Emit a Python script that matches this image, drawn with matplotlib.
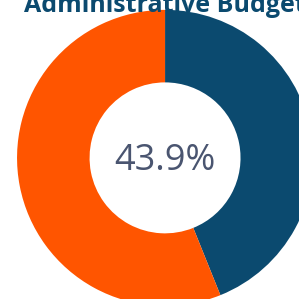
import matplotlib.pyplot as plt

# Data
labels = ['Administrative', 'Other']
values = [43.9, 56.1]
colors = ['#0B4A6F', '#FF5500']
title = 'Administrative Budget'
center_label = '43.9%'

fig = plt.figure(figsize=(2.99, 2.99), dpi=100)
ax = fig.add_axes([0.057, -0.023, 0.99, 0.99])
ax.pie(values, colors=colors, startangle=90, counterclock=False,
       radius=1, wedgeprops=dict(width=0.49, linewidth=0))
ax.set_xlim(-1, 1)
ax.set_ylim(-1, 1)
ax.set_aspect('equal')
ax.axis('off')
ax.text(0, -0.02, center_label, ha='center', va='center', fontsize=26,
        color='#4A5570', family=['Open Sans', 'DejaVu Sans'])

# title sits partly above the top edge, as in the source image
fig.text(0.552, 1 - 12 / 299, title, ha='center', va='baseline', fontsize=18,
         fontweight='bold', color='#0B4A6F', family=['Open Sans', 'DejaVu Sans'])

fig.savefig('out.png', dpi=100)
